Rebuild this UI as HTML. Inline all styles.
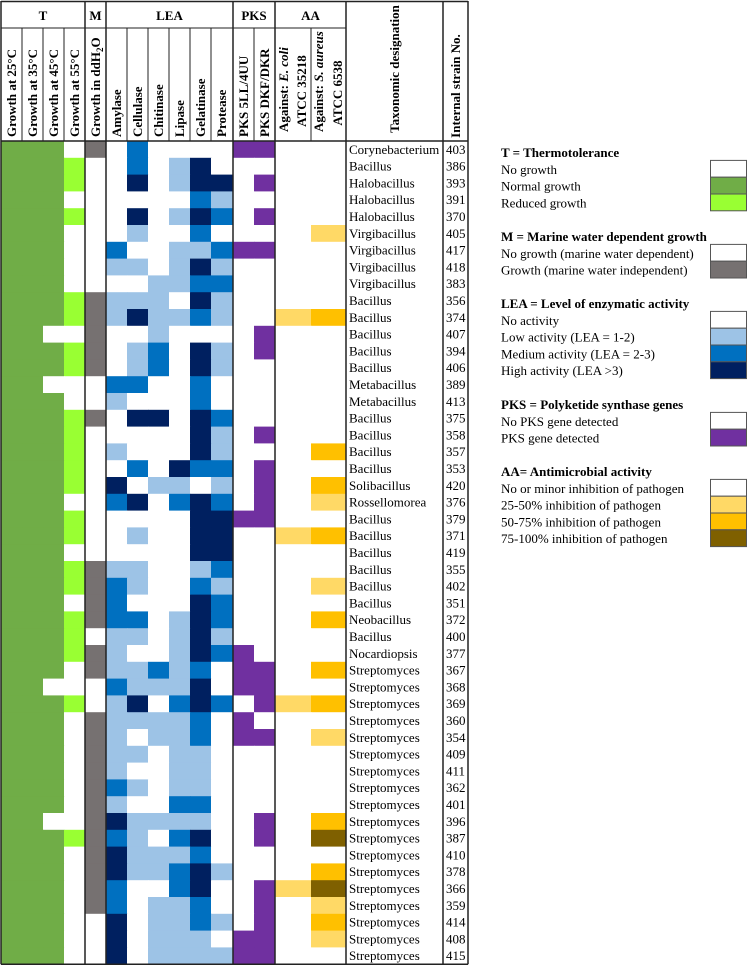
<!DOCTYPE html>
<html><head><meta charset="utf-8">
<style>
html,body{margin:0;padding:0;background:#fff;}
svg{display:block;font-family:"Liberation Serif",serif;}
</style></head>
<body>
<svg id="chart" width="749" height="967" viewBox="0 0 749 967" xmlns="http://www.w3.org/2000/svg">
<g id="cells"></g>
<g id="rowlabels"></g>
<g id="grid"></g>
<g id="header" font-weight="bold" font-size="13"></g>
<g id="legend" font-size="13"></g>
</svg>
<script>
// ---- data ----
const strainNames = ["Corynebacterium","Bacillus","Halobacillus","Halobacillus","Halobacillus","Virgibacillus","Virgibacillus","Virgibacillus","Virgibacillus","Bacillus","Bacillus","Bacillus","Bacillus","Bacillus","Metabacillus","Metabacillus","Bacillus","Bacillus","Bacillus","Bacillus","Solibacillus","Rossellomorea","Bacillus","Bacillus","Bacillus","Bacillus","Bacillus","Bacillus","Neobacillus","Bacillus","Nocardiopsis","Streptomyces","Streptomyces","Streptomyces","Streptomyces","Streptomyces","Streptomyces","Streptomyces","Streptomyces","Streptomyces","Streptomyces","Streptomyces","Streptomyces","Streptomyces","Streptomyces","Streptomyces","Streptomyces","Streptomyces","Streptomyces"];
const strainIds = ["403","386","393","391","370","405","417","418","383","356","374","407","394","406","389","413","375","358","357","353","420","376","379","371","419","355","402","351","372","400","377","367","368","369","360","354","409","411","362","401","396","387","410","378","366","359","414","408","415"];
// T: 0 no growth, 1 normal, 2 reduced (25,35,45,55°C)
const tempData = ["1110","1112","1112","1110","1112","1110","1110","1110","1110","1112","1112","1100","1112","1112","1100","1110","1112","1112","1112","1112","1112","1110","1112","1112","1110","1112","1112","1110","1112","1112","1112","1110","1100","1112","1110","1110","1110","1110","1110","1110","1100","1112","1110","1110","1110","1110","1110","1110","1110"];
// M: 0 no growth, 1 growth
const marineData = [1,0,0,0,0,0,0,0,0,1,1,1,1,1,0,0,1,0,0,0,0,0,0,0,0,1,1,1,1,0,1,1,0,0,1,1,1,1,1,1,1,1,1,1,1,1,0,0,0];
// LEA: 0 none,1 low,2 medium,3 high (Amylase,Cellulase,Chitinase,Lipase,Gelatinase,Protease)
const leaData = ["020000","020130","030133","000021","030132","010020","200112","110131","001122","111031","131121","001000","012031","012031","220020","100020","033032","000031","100031","020322","301101","230232","000033","010033","000033","110012","210021","200032","220132","110131","100132","112120","211130","130232","111120","101120","110110","100110","210110","100220","311110","210230","311120","311231","200230","201120","301121","301110","301111"];
// PKS: 5LL/4UU, DKF/DKR
const pksData = ["11","00","01","00","01","00","11","00","00","00","00","01","01","00","00","00","00","01","00","01","01","01","11","00","00","00","00","00","00","00","10","11","11","01","10","11","00","00","00","00","01","01","00","00","01","01","01","11","11"];
// AA: 0 none, 1 25-50%, 2 50-75%, 3 75-100% (E. coli, S. aureus)
const aaData = ["00","00","00","00","00","01","00","00","00","00","12","00","00","00","00","00","00","00","02","00","02","01","00","12","00","00","01","00","02","00","00","02","00","12","00","01","00","00","00","00","02","03","00","02","13","01","02","01","00"];

const tCol=["#ffffff","#70AD47","#99FF33"], mCol=["#ffffff","#767171"];
const leaCol=["#ffffff","#9DC3E6","#0070C0","#002060"], pksCol=["#ffffff","#7030A0"];
const aaCol=["#ffffff","#FFD966","#FFC000","#7F6000"];

const NS="http://www.w3.org/2000/svg";
const TOP=141, RH=16.8;
const colX=[1,22,43,64,85, 106, 127,148,169,190,211,233, 254,275, 311,346];
function yOf(i){return TOP+i*RH;}
function mk(tag,attrs,parent){const e=document.createElementNS(NS,tag);for(const k in attrs)e.setAttribute(k,attrs[k]);parent.appendChild(e);return e;}

const cells=document.getElementById('cells');
function cell(colIdx,row,color,name){
  const r=mk('rect',{x:colX[colIdx],y:yOf(row),width:colX[colIdx+1]-colX[colIdx]+0.5,height:RH+0.5,fill:color},cells);
  
  
}
const labels=document.getElementById('rowlabels');
for(let i=0;i<strainIds.length;i++){
  for(let c=0;c<4;c++) cell(c,i,tCol[+tempData[i][c]],'temp-cell');
  cell(4,i,mCol[marineData[i]],'marine-cell');
  for(let c=0;c<6;c++) cell(5+c,i,leaCol[+leaData[i][c]],'lea-cell');
  for(let c=0;c<2;c++) cell(11+c,i,pksCol[+pksData[i][c]],'pks-cell');
  for(let c=0;c<2;c++) cell(13+c,i,aaCol[+aaData[i][c]],'aa-cell');
  const t=mk('text',{x:349,y:yOf(i)+RH-4,'font-size':13},labels);
  t.textContent=strainNames[i];
  
  
  const n=mk('text',{x:446,y:yOf(i)+RH-4,'font-size':13},labels);
  n.textContent=strainIds[i];
  
  
}
const BOT=yOf(strainIds.length);

// grid
const grid=document.getElementById('grid');
const L=(x1,y1,x2,y2,w)=>mk('line',{x1,y1,x2,y2,stroke:'#222','stroke-width':w||1},grid);
L(1,1.5,468,1.5,1.5); L(1,TOP,468,TOP,1.5); L(1,BOT,468,BOT,1.5);
L(1,28,346,28,1);
[1,85,106,233,275,346,443,468].forEach(x=>L(x,1,x,BOT,1.5));
[22,43,64,127,148,169,190,211,254,311].forEach(x=>L(x,28,x,TOP,1));

// header
const hd=document.getElementById('header');
function ht(x,y,txt,name,rot,anchor,italicPart){
  const t=mk('text',{x,y,'text-anchor':anchor||'middle'},hd);
  if(rot) t.setAttribute('transform',`rotate(-90 ${x} ${y})`);
  t.textContent=txt;
  
  
  return t;
}
ht(43,20,'T','group-t'); ht(95.5,20,'M','group-m'); ht(169.5,20,'LEA','group-lea');
ht(254,20,'PKS','group-pks'); ht(310.5,20,'AA','group-aa');
const single=[[16,'Growth at 25°C'],[37,'Growth at 35°C'],[58,'Growth at 45°C'],[79,'Growth at 55°C'],
 [121,'Amylase'],[142,'Cellulase'],[163,'Chitinase'],[184,'Lipase'],[205,'Gelatinase'],[226,'Protease'],
 [248,'PKS  5LL/4UU'],[269,'PKS DKF/DKR']];
single.forEach(s=>ht(s[0],137,s[1],'column-header',true,'start'));
{const t=ht(100,137,'Growth in ddH','column-header',true,'start');
 const s=document.createElementNS(NS,'tspan');s.setAttribute('font-size','9');s.setAttribute('dy','3');s.textContent='2';t.appendChild(s);
 const s2=document.createElementNS(NS,'tspan');s2.setAttribute('dy','-3');s2.textContent='O';t.appendChild(s2);}
{const t=ht(288,132,'Against: ','column-header',true,'start');
 const s=document.createElementNS(NS,'tspan');s.setAttribute('font-style','italic');s.textContent='E. coli';t.appendChild(s);}
ht(306,91,'ATCC 35218','column-header',true,'middle');
{const t=ht(323,132,'Against: ','column-header',true,'start');
 const s=document.createElementNS(NS,'tspan');s.setAttribute('font-style','italic');s.textContent='S. aureus';t.appendChild(s);}
ht(342,93,'ATCC 6538','column-header',true,'middle');
ht(399,69,'Taxonomic designation','column-header',true,'middle');
ht(460,86,'Internal strain No.','column-header',true,'middle');

// legend
const lg=document.getElementById('legend');
const groups=[
 ['T = Thermotolerance',152,[['No growth','#ffffff'],['Normal growth','#70AD47'],['Reduced growth','#99FF33']]],
 ['M = Marine water dependent growth',236,[['No growth (marine water dependent)','#ffffff'],['Growth (marine water independent)','#767171']]],
 ['LEA = Level of enzymatic activity',303,[['No activity','#ffffff'],['Low activity (LEA = 1-2)','#9DC3E6'],['Medium activity (LEA = 2-3)','#0070C0'],['High activity (LEA >3)','#002060']]],
 ['PKS = Polyketide synthase genes',404,[['No PKS gene detected','#ffffff'],['PKS gene detected','#7030A0']]],
 ['AA= Antimicrobial activity',471,[['No or minor inhibition of pathogen','#ffffff'],['25-50% inhibition of pathogen','#FFD966'],['50-75% inhibition of pathogen','#FFC000'],['75-100% inhibition of pathogen','#7F6000']]]
];
groups.forEach(g=>{
  const t=mk('text',{x:501,y:g[1]+5,'font-weight':'bold'},lg);t.textContent=g[0];
  
  
  g[2].forEach((e,i)=>{
    const cy=g[1]+RH*(i+1);
    const tx=mk('text',{x:501,y:cy+5},lg);tx.textContent=e[0];
    
    
    const r=mk('rect',{x:710.5,y:cy-RH/2,width:36,height:RH,fill:e[1],stroke:'#555','stroke-width':1},lg);
    
    
  });
});
</script>
</body></html>
